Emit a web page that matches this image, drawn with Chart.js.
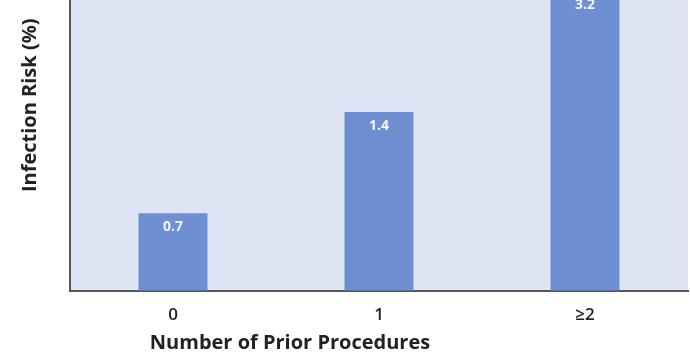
<!DOCTYPE html>
<html>
<head>
<meta charset="utf-8">
<script src="https://cdn.jsdelivr.net/npm/chart.js@4"></script>
<style>
  html, body { margin: 0; padding: 0; background: #fff; }
  #wrap { position: relative; width: 690px; height: 357px; overflow: hidden; }
  #wrap canvas { position: absolute; left: 0; top: -80px; }
</style>
</head>
<body>
<div id="wrap"><canvas id="chart" width="690" height="437"></canvas></div>
<script>
const categories = ['0', '1', '≥2'];
const riskValues = [0.7, 1.4, 3.2];
const valueLabels = ['0.7', '1.4', '3.2'];
const xTitle = 'Number of Prior Procedures';
const yTitle = 'Infection Risk (%)';

// light plot background
const plotBg = {
  id: 'plotBg',
  beforeDraw(chart) {
    const { ctx, chartArea: a } = chart;
    ctx.save();
    ctx.fillStyle = '#dfe4f5';
    ctx.fillRect(a.left, a.top, a.right - a.left, a.bottom - a.top);
    ctx.restore();
  }
};

// value labels inside top of each bar + x axis title (sits left of centre in the original)
const barLabels = {
  id: 'barLabels',
  afterDatasetsDraw(chart) {
    const { ctx, chartArea: a } = chart;
    const meta = chart.getDatasetMeta(0);
    ctx.save();
    ctx.fillStyle = '#f2f4fb';
    ctx.font = '700 14px "Open Sans", sans-serif';
    ctx.textAlign = 'center';
    ctx.textBaseline = 'middle';
    meta.data.forEach((bar, i) => {
      ctx.fillText(valueLabels[i], bar.x, bar.y + 14);
    });
    ctx.fillStyle = '#222';
    ctx.font = '700 20px "Open Sans", sans-serif';
    ctx.fillText(xTitle, a.left + 220, a.bottom + 53);
    ctx.restore();
  }
};

new Chart(document.getElementById('chart'), {
  type: 'bar',
  data: {
    labels: categories,
    datasets: [{
      data: riskValues,
      backgroundColor: '#6e8fd2',
      borderWidth: 0,
      barPercentage: 0.335,
      categoryPercentage: 1,
      clip: false
    }]
  },
  options: {
    responsive: false,
    animation: false,
    layout: { padding: { left: 18, right: 2, top: 0, bottom: 18 } },
    plugins: { legend: { display: false }, tooltip: { enabled: false } },
    scales: {
      x: {
        grid: { display: false, drawTicks: false },
        border: { display: true, color: '#555', width: 2 },
        ticks: { color: '#222', font: { family: 'Open Sans', size: 17, weight: '600' }, padding: 14 }
      },
      y: {
        type: 'logarithmic',
        min: 0.412,
        max: 5.22,
        grid: { display: false, drawTicks: false },
        border: { display: true, color: '#555', width: 2 },
        ticks: { display: false },
        title: {
          display: true,
          text: yTitle,
          color: '#222',
          font: { family: 'Open Sans', size: 20, weight: '700' },
          padding: { top: 0, bottom: 28 }
        }
      }
    }
  },
  plugins: [plotBg, barLabels]
});
</script>
</body>
</html>
